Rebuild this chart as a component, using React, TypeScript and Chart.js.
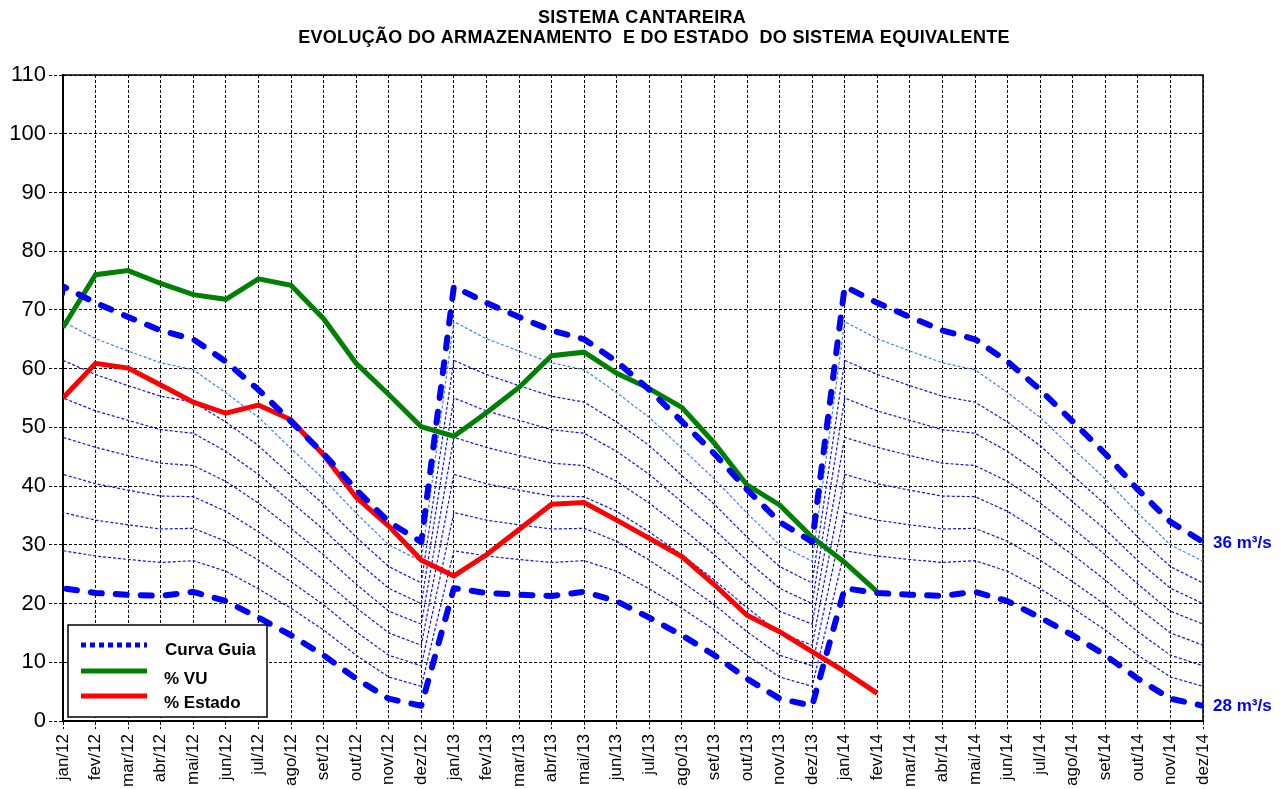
import React, { useEffect, useRef } from 'react';
import { Chart, registerables } from 'chart.js';

Chart.register(...registerables);

const FONT = "'Liberation Sans', Arial, Helvetica, sans-serif";

// Categories (dez/11 is only the lead-in point, hidden by the axis minimum)
const categories = [
  'dez/11',
  'jan/12', 'fev/12', 'mar/12', 'abr/12', 'mai/12', 'jun/12', 'jul/12', 'ago/12', 'set/12', 'out/12', 'nov/12', 'dez/12',
  'jan/13', 'fev/13', 'mar/13', 'abr/13', 'mai/13', 'jun/13', 'jul/13', 'ago/13', 'set/13', 'out/13', 'nov/13', 'dez/13',
  'jan/14', 'fev/14', 'mar/14', 'abr/14', 'mai/14', 'jun/14', 'jul/14', 'ago/14', 'set/14', 'out/14', 'nov/14', 'dez/14',
];

const yTicks = [0, 10, 20, 30, 40, 50, 60, 70, 80, 90, 100, 110];

// Curva guia, one value per month (jan..dez), same each year
const curve36 = [74.0, 71.2, 68.8, 66.5, 65.0, 61.2, 56.4, 51.0, 45.5, 39.4, 33.9, 30.5];
const curve35 = [68.0, 65.1, 63.0, 61.0, 59.8, 55.9, 51.7, 46.4, 41.2, 35.4, 30.0, 27.2];
const curve34 = [61.4, 59.0, 57.1, 55.3, 54.3, 50.9, 46.9, 41.8, 36.9, 31.3, 26.3, 23.5];
const curve33 = [55.0, 52.8, 51.2, 49.6, 49.0, 45.9, 42.0, 37.3, 32.6, 27.3, 22.6, 20.0];
const curve32 = [48.3, 46.6, 45.2, 43.9, 43.5, 40.8, 37.1, 32.8, 28.3, 23.3, 18.7, 16.5];
const curve31 = [42.0, 40.4, 39.3, 38.3, 38.2, 35.7, 32.2, 28.3, 24.0, 19.3, 15.0, 12.9];
const curve30 = [35.5, 34.2, 33.4, 32.7, 32.8, 30.6, 27.4, 23.7, 19.8, 15.2, 11.2, 9.4];
const curve29 = [29.0, 28.1, 27.5, 27.0, 27.3, 25.5, 22.5, 19.2, 15.5, 11.2, 7.5, 5.9];
const curve28 = [22.6, 21.8, 21.5, 21.3, 22.0, 20.4, 17.6, 14.6, 11.2, 7.2, 3.8, 2.6];

// Observed series, jan/12 .. fev/14
const percentVU = [
  67.0, 76.0, 76.7, 74.5, 72.6, 71.8, 75.3, 74.2, 68.5, 60.9, 55.6, 50.1,
  48.5, 52.5, 56.8, 62.2, 62.8, 59.2, 56.6, 53.4, 47.3, 40.2, 36.8, 31.3,
  27.0, 22.0,
];
const percentEstado = [
  55.0, 60.9, 60.1, 57.2, 54.3, 52.4, 53.8, 51.3, 45.3, 38.1, 33.2, 27.4,
  24.7, 28.3, 32.6, 36.9, 37.2, 34.2, 31.1, 28.0, 23.2, 18.0, 15.2, 11.8,
  8.4, 4.7,
];

const titleLines = ['SISTEMA CANTAREIRA', 'EVOLUÇÃO DO ARMAZENAMENTO  E DO ESTADO  DO SISTEMA EQUIVALENTE'];
const legendLabels = ['Curva Guia', '% VU', '% Estado'];

const YEARS = 3;

function guideSeries(monthly: number[]): number[] {
  const out: number[] = [monthly[11]];
  for (let y = 0; y < YEARS; y++) out.push(...monthly);
  return out;
}

function observedSeries(values: number[]): (number | null)[] {
  const out: (number | null)[] = [null, ...values];
  while (out.length < categories.length) out.push(null);
  return out;
}

const BLUE = '#0000FF';
const THIN_BLUE = '#1010FF';
const LIGHT_BLUE = '#3F7DFF';
const GREEN = '#008000';
const RED = '#FF0000';

const thickGuide = (label: string, data: number[]) => ({
  label,
  data: guideSeries(data),
  borderColor: BLUE,
  backgroundColor: BLUE,
  borderWidth: 6,
  borderDash: [11, 14],
  borderCapStyle: 'round' as const,
  borderJoinStyle: 'round' as const,
  pointRadius: 0,
  tension: 0,
  order: 0,
  endLabel: label,
});

const thinGuide = (label: string, data: number[], color: string) => ({
  label,
  data: guideSeries(data),
  borderColor: color,
  backgroundColor: color,
  borderWidth: 1.2,
  borderDash: [3, 2],
  pointRadius: 0,
  tension: 0,
  order: 2,
});

const frameAndLegend = {
  id: 'frameAndLegend',
  beforeDraw(chart: any) {
    const { ctx } = chart;
    ctx.save();
    ctx.fillStyle = '#000';
    ctx.font = `bold 18px ${FONT}`;
    ctx.textAlign = 'center';
    ctx.textBaseline = 'middle';
    try { (ctx as any).letterSpacing = '0.3px'; } catch (e) { /* ignore */ }
    ctx.fillText(titleLines[0], 642, 18);
    ctx.fillText(titleLines[1], 654, 38);
    try { (ctx as any).letterSpacing = '0px'; } catch (e) { /* ignore */ }
    ctx.restore();
  },
  beforeDatasetsDraw(chart: any) {
    const { ctx, chartArea } = chart;
    ctx.save();
    ctx.strokeStyle = '#000';
    ctx.lineWidth = 1.5;
    ctx.setLineDash([]);
    ctx.beginPath();
    ctx.moveTo(chartArea.left, chartArea.top);
    ctx.lineTo(chartArea.right, chartArea.top);
    ctx.lineTo(chartArea.right, chartArea.bottom);
    ctx.stroke();
    ctx.restore();
  },
  afterDatasetsDraw(chart: any) {
    const { ctx } = chart;
    ctx.save();
    ctx.font = `bold 17px ${FONT}`;
    ctx.textBaseline = 'middle';
    ctx.textAlign = 'left';
    chart.data.datasets.forEach((ds: any, i: number) => {
      if (!ds.endLabel) return;
      const meta = chart.getDatasetMeta(i);
      const pt = meta.data[meta.data.length - 1];
      ctx.fillStyle = BLUE;
      ctx.fillText(ds.endLabel, pt.x + 10, pt.y + 1);
    });
    ctx.restore();
  },
  afterDraw(chart: any) {
    const { ctx, chartArea } = chart;
    const w = 199;
    const h = 92;
    const left = chartArea.left + 5;
    const top = chartArea.bottom - 4 - h;
    ctx.save();
    ctx.fillStyle = '#fff';
    ctx.fillRect(left, top, w, h);
    ctx.strokeStyle = '#000';
    ctx.lineWidth = 1.5;
    ctx.setLineDash([]);
    ctx.strokeRect(left, top, w, h);

    const samples = [
      { color: BLUE, width: 5, dash: [5, 4], y: top + 20 },
      { color: GREEN, width: 5, dash: [], y: top + 46 },
      { color: RED, width: 5, dash: [], y: top + 71 },
    ];
    const textY = [top + 25, top + 54, top + 78];
    samples.forEach((s, i) => {
      ctx.beginPath();
      ctx.strokeStyle = s.color;
      ctx.lineWidth = s.width;
      ctx.setLineDash(s.dash);
      ctx.lineCap = 'butt';
      ctx.moveTo(left + 13, s.y);
      ctx.lineTo(left + 79, s.y);
      ctx.stroke();
      ctx.setLineDash([]);
      ctx.fillStyle = '#000';
      ctx.font = `bold 17px ${FONT}`;
      ctx.textBaseline = 'middle';
      ctx.textAlign = 'left';
      ctx.fillText(legendLabels[i], left + (i === 0 ? 97 : 96), textY[i]);
    });
    ctx.restore();
  },
};

export default function App() {
  const ref = useRef<HTMLCanvasElement>(null);

  useEffect(() => {
    if (!ref.current) return;
    const datasets: any[] = [
      thickGuide('36 m³/s', curve36),
      thinGuide('35 m³/s', curve35, LIGHT_BLUE),
      thinGuide('34 m³/s', curve34, THIN_BLUE),
      thinGuide('33 m³/s', curve33, THIN_BLUE),
      thinGuide('32 m³/s', curve32, THIN_BLUE),
      thinGuide('31 m³/s', curve31, THIN_BLUE),
      thinGuide('30 m³/s', curve30, THIN_BLUE),
      thinGuide('29 m³/s', curve29, THIN_BLUE),
      thickGuide('28 m³/s', curve28),
      {
        label: legendLabels[1],
        data: observedSeries(percentVU),
        borderColor: GREEN,
        backgroundColor: GREEN,
        borderWidth: 5,
        pointRadius: 0,
        tension: 0,
        order: 1,
      },
      {
        label: legendLabels[2],
        data: observedSeries(percentEstado),
        borderColor: RED,
        backgroundColor: RED,
        borderWidth: 5,
        pointRadius: 0,
        tension: 0,
        order: 1,
      },
    ];

    const chart = new Chart(ref.current, {
      type: 'line',
      data: { labels: categories, datasets },
      plugins: [frameAndLegend],
      options: {
        responsive: false,
        animation: false,
        devicePixelRatio: 1,
        layout: { padding: { left: 0, right: 85, top: 75, bottom: 0 } },
        plugins: {
          legend: { display: false },
          tooltip: { enabled: false },
          title: { display: false },
        },
        scales: {
          x: {
            type: 'category',
            min: 'jan/12',
            max: 'dez/14',
            offset: false,
            afterFit: (s: any) => { s.height = 68; },
            grid: {
              color: '#000',
              lineWidth: 1,
              tickLength: 8,
              tickBorderDash: [3, 2],
            },
            border: { display: true, color: '#000', width: 2, dash: [3, 2] },
            ticks: {
              autoSkip: false,
              minRotation: 90,
              maxRotation: 90,
              padding: 5,
              color: '#000',
              font: { family: FONT, size: 17 },
            },
          },
          y: {
            type: 'linear',
            min: 0,
            max: 110,
            afterFit: (s: any) => { s.width = 63; },
            afterBuildTicks: (s: any) => { s.ticks = yTicks.map((v) => ({ value: v })); },
            grid: {
              color: '#000',
              lineWidth: 1,
              tickLength: 14,
              tickBorderDash: [3, 2],
            },
            border: { display: true, color: '#000', width: 2, dash: [3, 2] },
            ticks: {
              padding: 3,
              color: '#000',
              font: { family: FONT, size: 22 },
            },
          },
        },
      } as any,
    });
    return () => chart.destroy();
  }, []);

  return (
    <div style={{ position: 'fixed', left: 0, top: 0, width: 1288, height: 789, background: '#fff' }}>
      <canvas ref={ref} width={1288} height={789} style={{ display: 'block' }} />
    </div>
  );
}
